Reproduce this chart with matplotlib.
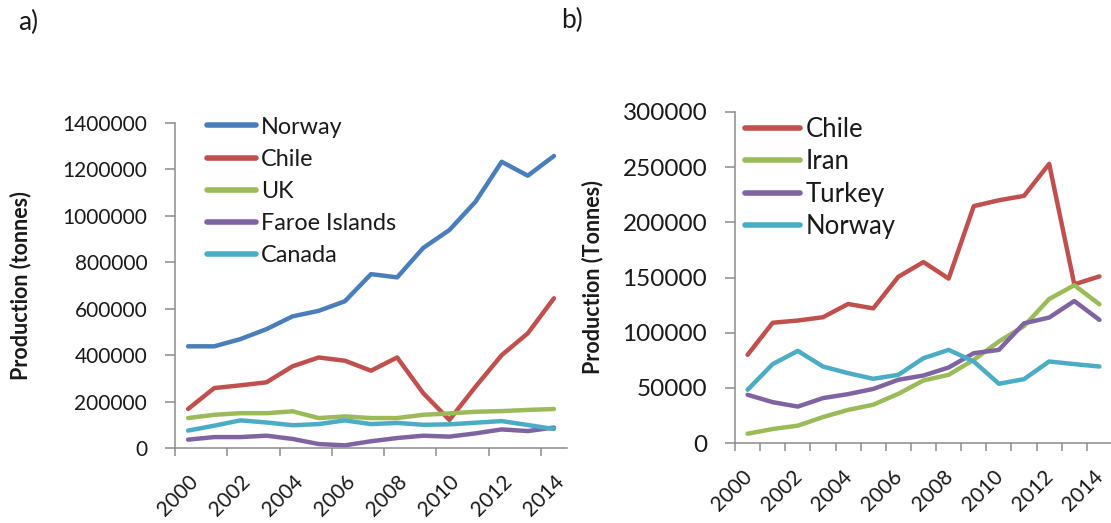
import matplotlib
matplotlib.use("Agg")
import matplotlib.pyplot as plt
import matplotlib.transforms as mtransforms
import numpy as np

years = list(range(2000, 2015))
year_labels = [str(y) for y in years[::2]]

# Panel a) production (tonnes)
a_norway = [438000, 438000, 469000, 512000, 567000, 591000, 632000, 749000, 735000,
            862000, 939000, 1061000, 1233000, 1173000, 1258000]
a_chile = [168000, 258000, 270000, 283000, 352000, 390000, 376000, 333000, 390000,
           236000, 121000, 264000, 400000, 494000, 645000]
a_uk = [129000, 143000, 150000, 150000, 158000, 129000, 136000, 129000, 129000,
        143000, 149000, 156000, 159000, 164000, 168000]
a_faroe = [36000, 47000, 47000, 53000, 39000, 17000, 11500, 29000, 43000,
           53000, 49000, 63000, 80000, 73000, 88000]
a_canada = [75000, 96000, 119000, 110000, 98000, 103000, 119000, 103000, 108000,
            100000, 102000, 109000, 116000, 99000, 82000]

# Panel b) production (Tonnes)
b_chile = [79900, 109000, 111000, 114000, 126000, 122000, 150700, 164000, 149000,
           214700, 220000, 224000, 253000, 143800, 151000]
b_iran = [8400, 12700, 15700, 23500, 30000, 34700, 44600, 56700, 61800,
          75400, 92000, 106000, 130500, 143000, 125700]
b_turkey = [43700, 37000, 33000, 40700, 44300, 49000, 57300, 61200, 68400,
            81400, 84400, 108500, 113700, 128700, 111600]
b_norway = [48200, 71500, 83500, 69300, 63300, 58200, 61800, 76900, 84400,
            73900, 53700, 57900, 73900, 71500, 69300]

BLUE = "#4A7EBB"
RED = "#C0504D"
GREEN = "#9BBB59"
PURPLE = "#8064A2"
CYAN = "#4BACC6"
SPINE = "#8C8C8C"
TXT = "#1A1A1A"

plt.rcParams['font.family'] = ['Lato', 'DejaVu Sans']

fig = plt.figure(figsize=(11.11, 5.23), dpi=100)

ax1 = fig.add_axes([175/1111, 1-448/523, (567-175)/1111, (448-123)/523])
ax2 = fig.add_axes([735/1111, 1-443/523, (1112-735)/1111, (443-112)/523])

x = np.arange(len(years))
LW = 3.2

for ax, series, ylim, ystep, every, ysize in [
    (ax1, [("Norway", a_norway, BLUE), ("Chile", a_chile, RED), ("UK", a_uk, GREEN),
           ("Faroe Islands", a_faroe, PURPLE), ("Canada", a_canada, CYAN)],
     1400000, 200000, 2, 15),
    (ax2, [("Chile", b_chile, RED), ("Iran", b_iran, GREEN), ("Turkey", b_turkey, PURPLE),
           ("Norway", b_norway, CYAN)],
     300000, 50000, 1, 17.5),
]:
    for name, vals, col in series:
        ax.plot(x, vals, color=col, lw=LW, label=name, solid_capstyle='round',
                solid_joinstyle='round', clip_on=False)
    ax.set_xlim(-0.5, len(years) - 0.5)
    ax.set_ylim(0, ylim)
    ax.set_yticks(np.arange(0, ylim + 1, ystep))
    ax.set_yticklabels([f"{int(v)}" for v in np.arange(0, ylim + 1, ystep)])
    ax.set_xticks(x[::2])
    ax.set_xticklabels(year_labels, rotation=45, ha='right', va='top',
                       rotation_mode='anchor')
    ax.set_xticks(np.arange(-0.5, len(years) - 0.5, every), minor=True)
    ax.tick_params(axis='x', which='major', length=0, pad=17, labelsize=15, labelcolor=TXT)
    ax.tick_params(axis='x', which='minor', length=6, width=1.1, color=SPINE, direction='out')
    ax.tick_params(axis='y', length=7, width=1.1, color=SPINE, pad=13, labelsize=ysize,
                   labelcolor=TXT)
    for s in ['top', 'right']:
        ax.spines[s].set_visible(False)
    for s in ['left', 'bottom']:
        ax.spines[s].set_color(SPINE)
        ax.spines[s].set_linewidth(1.1)
    ax.set_facecolor('none')

# nudge right-panel year labels slightly left so the last one stays inside the figure
shift = mtransforms.ScaledTranslation(-6/100, 0, fig.dpi_scale_trans)
for lbl in ax2.get_xticklabels():
    lbl.set_transform(lbl.get_transform() + shift)

ax1.set_ylabel("Production (tonnes)", fontsize=15.5, fontweight='bold', color=TXT)
ax2.set_ylabel("Production (Tonnes)", fontsize=15.5, fontweight='bold', color=TXT)
ax1.yaxis.set_label_coords(-0.367, 0.5)
ax2.yaxis.set_label_coords(-0.35, 0.5)

leg1 = ax1.legend(loc='upper left', bbox_to_anchor=(0.082, 1.02), frameon=False,
                  fontsize=16.8, handlelength=2.1, handletextpad=0.2, labelspacing=0.48,
                  borderaxespad=0, borderpad=0)
leg2 = ax2.legend(loc='upper left', bbox_to_anchor=(0.027, 0.985), frameon=False,
                  fontsize=18.5, handlelength=2.14, handletextpad=0.2, labelspacing=0.29,
                  borderaxespad=0, borderpad=0)
for leg in (leg1, leg2):
    for t in leg.get_texts():
        t.set_color(TXT)
    for h in leg.get_lines():
        h.set_linewidth(4)

fig.text(18/1111, 1-22/523, "a)", fontsize=19, ha='left', va='center', color=TXT)
fig.text(561/1111, 1-20/523, "b)", fontsize=19, ha='left', va='center', color=TXT)

fig.savefig("out.png", dpi=100)
